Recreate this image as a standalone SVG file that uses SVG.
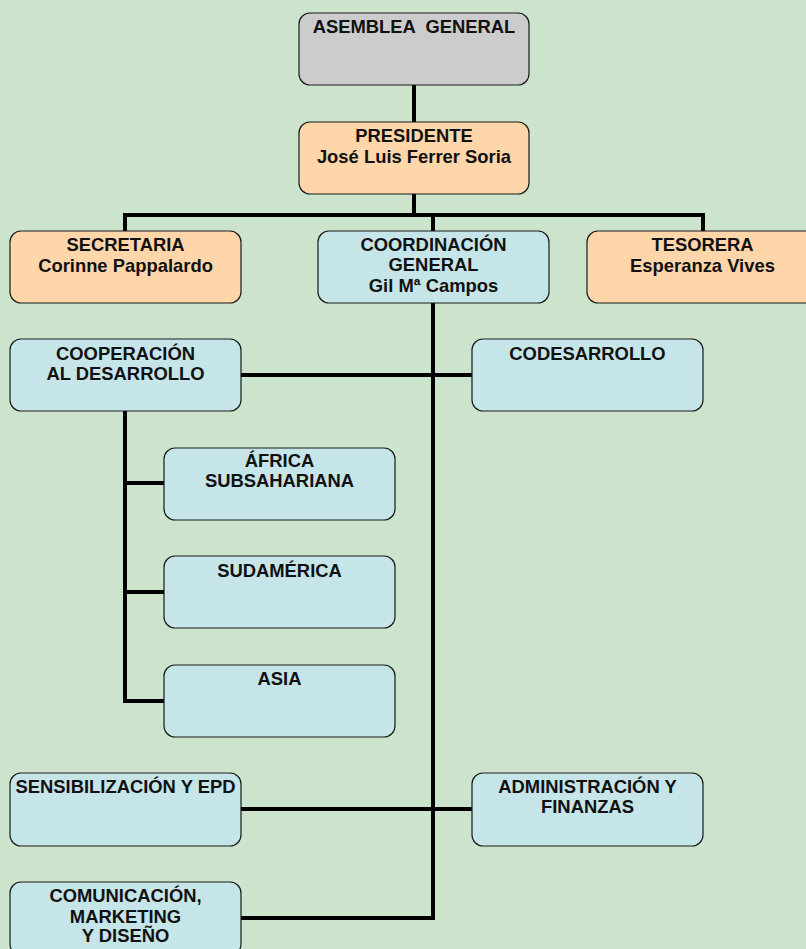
<svg xmlns="http://www.w3.org/2000/svg" width="806" height="949" viewBox="0 0 806 949">
<style>
.bg{fill:#cce4cc}
.box{stroke:#1a1a1a;stroke-width:1.2}
.gray{fill:#cccccc}
.orange{fill:#fed6a9}
.blue{fill:#c6e5e8}
text{font-family:"Liberation Sans",Arial,sans-serif;font-weight:bold;font-size:18.4px;fill:#111;text-anchor:middle}
.conn{stroke:#000;stroke-width:4;fill:none;stroke-linecap:square;stroke-linejoin:miter}
</style>
<rect class="bg" x="0" y="0" width="806" height="949"/>
<g id="connectors">
<path class="conn" d="M414 85 V215"/>
<path class="conn" d="M125 231 V215 H703 V231"/>
<path class="conn" d="M433 215 V231"/>
<path class="conn" d="M433 303 V918 H241"/>
<path class="conn" d="M241 375 H472"/>
<path class="conn" d="M241 809 H472"/>
<path class="conn" d="M125 411 V701 H164"/>
<path class="conn" d="M125 483 H164"/>
<path class="conn" d="M125 592 H164"/>
</g>
<g id="asamblea">
<rect class="box gray" x="299" y="13" width="230" height="72" rx="11"/>
<text x="414" y="33" xml:space="preserve">ASEMBLEA  GENERAL</text>
</g>
<g id="presidente">
<rect class="box orange" x="299" y="122" width="230" height="72" rx="11"/>
<text x="414" y="142">PRESIDENTE</text>
<text x="414" y="163">José Luis Ferrer Soria</text>
</g>
<g id="secretaria">
<rect class="box orange" x="10" y="231" width="231" height="72" rx="11"/>
<text x="125.5" y="251">SECRETARIA</text>
<text x="125.5" y="272">Corinne Pappalardo</text>
</g>
<g id="coordinacion">
<rect class="box blue" x="318" y="231" width="231" height="72" rx="11"/>
<text x="433.5" y="251">COORDINACIÓN</text>
<text x="433.5" y="271">GENERAL</text>
<text x="433.5" y="292">Gil Mª Campos</text>
</g>
<g id="tesorera">
<rect class="box orange" x="587" y="231" width="231" height="72" rx="11"/>
<text x="702.5" y="251">TESORERA</text>
<text x="702.5" y="272">Esperanza Vives</text>
</g>
<g id="cooperacion">
<rect class="box blue" x="10" y="339" width="231" height="72" rx="11"/>
<text x="125.5" y="360">COOPERACIÓN</text>
<text x="125.5" y="380">AL DESARROLLO</text>
</g>
<g id="codesarrollo">
<rect class="box blue" x="472" y="339" width="231" height="72" rx="11"/>
<text x="587.5" y="360">CODESARROLLO</text>
</g>
<g id="africa">
<rect class="box blue" x="164" y="448" width="231" height="72" rx="11"/>
<text x="279.5" y="467">ÁFRICA</text>
<text x="279.5" y="487">SUBSAHARIANA</text>
</g>
<g id="sudamerica">
<rect class="box blue" x="164" y="556" width="231" height="72" rx="11"/>
<text x="279.5" y="577">SUDAMÉRICA</text>
</g>
<g id="asia">
<rect class="box blue" x="164" y="665" width="231" height="72" rx="11"/>
<text x="279.5" y="685">ASIA</text>
</g>
<g id="sensibilizacion">
<rect class="box blue" x="10" y="773" width="231" height="73" rx="11"/>
<text x="125.5" y="793">SENSIBILIZACIÓN Y EPD</text>
</g>
<g id="administracion">
<rect class="box blue" x="472" y="773" width="231" height="73" rx="11"/>
<text x="587.5" y="793">ADMINISTRACIÓN Y</text>
<text x="587.5" y="813">FINANZAS</text>
</g>
<g id="comunicacion">
<rect class="box blue" x="10" y="882" width="231" height="73" rx="11"/>
<text x="125.5" y="902">COMUNICACIÓN,</text>
<text x="125.5" y="923">MARKETING</text>
<text x="125.5" y="942">Y DISEÑO</text>
</g>
</svg>
